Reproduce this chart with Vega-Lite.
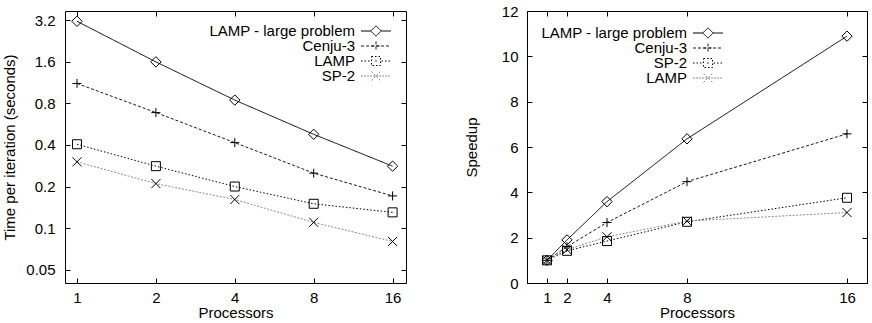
{
  "$schema": "https://vega.github.io/schema/vega-lite/v6.json",
  "background": "white",
  "padding": {"left": 2, "top": 3, "right": 0, "bottom": 0},
  "bounds": "flush",
  "spacing": 121,
  "config": {
    "font": "Liberation Sans",
    "view": {"stroke": "black", "strokeWidth": 1},
    "axis": {
      "labelFont": "Liberation Sans", "labelFontSize": 15, "labelColor": "black",
      "titleFont": "Liberation Sans", "titleFontSize": 15, "titleFontWeight": "normal", "titleColor": "black",
      "domain": false, "grid": false, "tickColor": "black", "tickSize": -5, "tickWidth": 1
    },
    "legend": {"labelFont": "Liberation Sans", "labelFontSize": 15, "labelColor": "black", "padding": 0, "rowPadding": 0, "labelLimit": 400, "labelBaseline": "middle"}
  },
  "datasets": {
    "left": [
      {"p": 1, "t": 3.15, "s": "LAMP - large problem"},
      {"p": 2, "t": 1.6, "s": "LAMP - large problem"},
      {"p": 4, "t": 0.846, "s": "LAMP - large problem"},
      {"p": 8, "t": 0.478, "s": "LAMP - large problem"},
      {"p": 16, "t": 0.281, "s": "LAMP - large problem"},
      {"p": 1, "t": 1.117, "s": "Cenju-3"},
      {"p": 2, "t": 0.687, "s": "Cenju-3"},
      {"p": 4, "t": 0.416, "s": "Cenju-3"},
      {"p": 8, "t": 0.25, "s": "Cenju-3"},
      {"p": 16, "t": 0.171, "s": "Cenju-3"},
      {"p": 1, "t": 0.405, "s": "LAMP"},
      {"p": 2, "t": 0.281, "s": "LAMP"},
      {"p": 4, "t": 0.2, "s": "LAMP"},
      {"p": 8, "t": 0.15, "s": "LAMP"},
      {"p": 16, "t": 0.13, "s": "LAMP"},
      {"p": 1, "t": 0.302, "s": "SP-2"},
      {"p": 2, "t": 0.21, "s": "SP-2"},
      {"p": 4, "t": 0.161, "s": "SP-2"},
      {"p": 8, "t": 0.11, "s": "SP-2"},
      {"p": 16, "t": 0.08, "s": "SP-2"}
    ],
    "right": [
      {"p": 1, "v": 1, "s": "LAMP - large problem"},
      {"p": 2, "v": 1.9, "s": "LAMP - large problem"},
      {"p": 4, "v": 3.59, "s": "LAMP - large problem"},
      {"p": 8, "v": 6.36, "s": "LAMP - large problem"},
      {"p": 16, "v": 10.89, "s": "LAMP - large problem"},
      {"p": 1, "v": 1, "s": "Cenju-3"},
      {"p": 2, "v": 1.6, "s": "Cenju-3"},
      {"p": 4, "v": 2.67, "s": "Cenju-3"},
      {"p": 8, "v": 4.47, "s": "Cenju-3"},
      {"p": 16, "v": 6.58, "s": "Cenju-3"},
      {"p": 1, "v": 1, "s": "SP-2"},
      {"p": 2, "v": 1.42, "s": "SP-2"},
      {"p": 4, "v": 1.85, "s": "SP-2"},
      {"p": 8, "v": 2.7, "s": "SP-2"},
      {"p": 16, "v": 3.76, "s": "SP-2"},
      {"p": 1, "v": 1, "s": "LAMP"},
      {"p": 2, "v": 1.47, "s": "LAMP"},
      {"p": 4, "v": 2.04, "s": "LAMP"},
      {"p": 8, "v": 2.73, "s": "LAMP"},
      {"p": 16, "v": 3.11, "s": "LAMP"}
    ]
  },
  "hconcat": [
    {
      "width": 341, "height": 272,
      "data": {"name": "left"},
      "layer": [
        {
          "mark": {"type": "line", "strokeWidth": 1},
          "encoding": {
            "x": {"field": "p", "type": "quantitative",
                  "scale": {"type": "log", "base": 2, "domain": [0.9, 18], "nice": false},
                  "axis": {"orient": "bottom", "values": [1, 2, 4, 8, 16], "format": "~g", "title": "Processors", "labelPadding": 12, "titlePadding": 0}},
            "y": {"field": "t", "type": "quantitative",
                  "scale": {"type": "log", "domain": [0.04, 3.74], "nice": false},
                  "axis": {"orient": "left", "values": [0.05, 0.1, 0.2, 0.4, 0.8, 1.6, 3.2], "format": "~g", "title": "Time per iteration (seconds)", "labelPadding": 15, "titlePadding": 8}},
            "color": {"field": "s", "type": "nominal",
                      "scale": {"domain": ["LAMP - large problem", "Cenju-3", "LAMP", "SP-2"], "range": ["#000000", "#1a1a1a", "#000000", "#8c8c8c"]},
                      "legend": {"orient": "none", "legendX": 290, "legendY": 20, "title": null, "symbolSize": 81, "symbolStrokeWidth": 1, "symbolFillColor": "transparent", "labelAlign": "right",
                                 "encode": {"labels": {"update": {"x": {"value": 0}, "y": {"value": 0}}},
                                            "symbols": {"update": {"x": {"value": 21}, "y": {"value": 0}, "size": {"value": 81}, "fill": {"value": "transparent"}, "strokeDash": {"value": [1, 0]},
                                              "shape": {"signal": "datum.value === 'LAMP - large problem' ? 'M-3.33,0H-1.15M1.15,0H3.33M0,-1.15L1.15,0L0,1.15L-1.15,0Z' : datum.value === 'Cenju-3' ? 'M-3.33,0H-2.66M-2.22,0H-1.55M-1.11,0H-0.44M0,0H0.67M1.11,0H1.78M2.22,0H2.89M-1,0H1M0,-1V1' : datum.value === 'LAMP' ? 'M-3.33,0H-3M-2.55,0H-2.22M-1.77,0H-1.44M-0.17,0H0.17M1.23,0H1.56M2.01,0H2.34M2.79,0H3.12M-1,-1H1V1H-1Z' : 'M-3.33,0H-2.89M-2.66,0H-2.22M-1.99,0H-1.55M-1.32,0H-0.88M-0.65,0H-0.21M0.02,0H0.46M0.69,0H1.13M1.36,0H1.8M2.03,0H2.47M2.7,0H3.14M-1,-1L1,1M-1,1L1,-1'"}}}}}},
            "strokeDash": {"field": "s", "type": "nominal",
                      "scale": {"domain": ["LAMP - large problem", "Cenju-3", "LAMP", "SP-2"], "range": [[1, 0], [3, 2], [1.5, 2], [2, 1.5]]},
                      "legend": null}
          }
        },
        {
          "mark": {"type": "point", "filled": false, "stroke": "black", "strokeWidth": 1, "size": 81, "opacity": 1},
          "encoding": {
            "x": {"field": "p", "type": "quantitative", "axis": {"orient": "top", "values": [1, 2, 4, 8, 16], "labels": false, "title": null}},
            "y": {"field": "t", "type": "quantitative", "axis": {"orient": "right", "values": [0.05, 0.1, 0.2, 0.4, 0.8, 1.6, 3.2], "labels": false, "title": null}},
            "shape": {"field": "s", "type": "nominal", "sort": ["LAMP - large problem", "Cenju-3", "LAMP", "SP-2"],
                      "scale": {"range": ["M0,-1.15L1.15,0L0,1.15L-1.15,0Z", "M-1,0H1M0,-1V1", "M-1,-1H1V1H-1Z", "M-1,-1L1,1M-1,1L1,-1"]},
                      "legend": null}
          }
        }
      ],
      "resolve": {"axis": {"x": "independent", "y": "independent"}}
    },
    {
      "width": 340, "height": 272,
      "data": {"name": "right"},
      "layer": [
        {
          "mark": {"type": "line", "strokeWidth": 1},
          "encoding": {
            "x": {"field": "p", "type": "quantitative",
                  "scale": {"domain": [0, 17], "nice": false, "zero": false},
                  "axis": {"orient": "bottom", "values": [1, 2, 4, 8, 16], "format": "d", "title": "Processors", "labelPadding": 12, "titlePadding": 0}},
            "y": {"field": "v", "type": "quantitative",
                  "scale": {"domain": [0, 12], "nice": false},
                  "axis": {"orient": "left", "values": [0, 2, 4, 6, 8, 10, 12], "format": "d", "title": "Speedup", "labelPadding": 14, "titlePadding": 22}},
            "color": {"field": "s", "type": "nominal",
                      "scale": {"domain": ["LAMP - large problem", "Cenju-3", "SP-2", "LAMP"], "range": ["#000000", "#1a1a1a", "#000000", "#8c8c8c"]},
                      "legend": {"orient": "none", "legendX": 160, "legendY": 22, "title": null, "symbolSize": 81, "symbolStrokeWidth": 1, "symbolFillColor": "transparent", "labelAlign": "right",
                                 "encode": {"labels": {"update": {"x": {"value": 0}, "y": {"value": 0}}},
                                            "symbols": {"update": {"x": {"value": 21}, "y": {"value": 0}, "size": {"value": 81}, "fill": {"value": "transparent"}, "strokeDash": {"value": [1, 0]},
                                              "shape": {"signal": "datum.value === 'LAMP - large problem' ? 'M-3.33,0H-1.15M1.15,0H3.33M0,-1.15L1.15,0L0,1.15L-1.15,0Z' : datum.value === 'Cenju-3' ? 'M-3.33,0H-2.66M-2.22,0H-1.55M-1.11,0H-0.44M0,0H0.67M1.11,0H1.78M2.22,0H2.89M-1,0H1M0,-1V1' : datum.value === 'SP-2' ? 'M-3.33,0H-3M-2.55,0H-2.22M-1.77,0H-1.44M-0.17,0H0.17M1.23,0H1.56M2.01,0H2.34M2.79,0H3.12M-1,-1H1V1H-1Z' : 'M-3.33,0H-2.89M-2.66,0H-2.22M-1.99,0H-1.55M-1.32,0H-0.88M-0.65,0H-0.21M0.02,0H0.46M0.69,0H1.13M1.36,0H1.8M2.03,0H2.47M2.7,0H3.14M-1,-1L1,1M-1,1L1,-1'"}}}}}},
            "strokeDash": {"field": "s", "type": "nominal",
                      "scale": {"domain": ["LAMP - large problem", "Cenju-3", "SP-2", "LAMP"], "range": [[1, 0], [3, 2], [1.5, 2], [2, 1.5]]},
                      "legend": null}
          }
        },
        {
          "mark": {"type": "point", "filled": false, "stroke": "black", "strokeWidth": 1, "size": 81, "opacity": 1},
          "encoding": {
            "x": {"field": "p", "type": "quantitative", "axis": {"orient": "top", "values": [1, 2, 4, 8, 16], "labels": false, "title": null}},
            "y": {"field": "v", "type": "quantitative", "axis": {"orient": "right", "values": [0, 2, 4, 6, 8, 10, 12], "labels": false, "title": null}},
            "shape": {"field": "s", "type": "nominal", "sort": ["LAMP - large problem", "Cenju-3", "SP-2", "LAMP"],
                      "scale": {"range": ["M0,-1.15L1.15,0L0,1.15L-1.15,0Z", "M-1,0H1M0,-1V1", "M-1,-1H1V1H-1Z", "M-1,-1L1,1M-1,1L1,-1"]},
                      "legend": null}
          }
        }
      ],
      "resolve": {"axis": {"x": "independent", "y": "independent"}}
    }
  ],
  "resolve": {"scale": {"color": "independent", "strokeDash": "independent", "shape": "independent"}, "legend": {"color": "independent", "strokeDash": "independent", "shape": "independent"}}
}
